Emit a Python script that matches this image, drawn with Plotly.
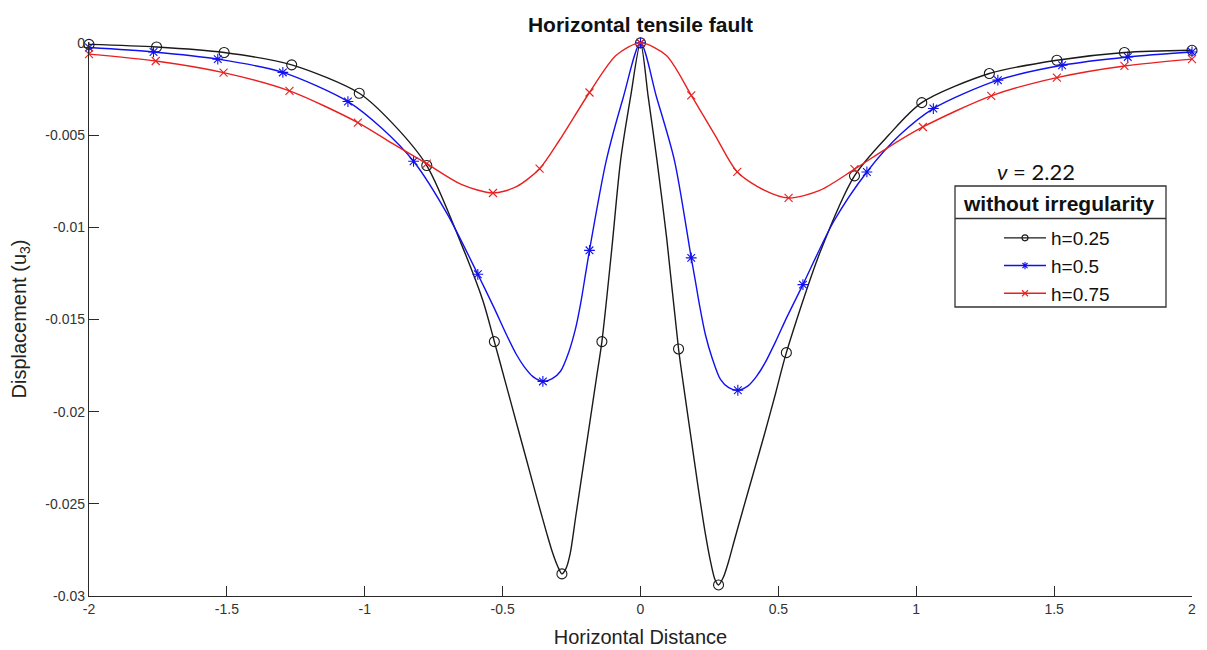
import plotly.graph_objects as go

# ---------------- data ----------------
x_tick_vals = [-2, -1.5, -1, -0.5, 0, 0.5, 1, 1.5, 2]
x_tick_text = ["-2", "-1.5", "-1", "-0.5", "0", "0.5", "1", "1.5", "2"]
y_tick_vals = [0, -0.005, -0.01, -0.015, -0.02, -0.025, -0.03]
y_tick_text = ["0", "-0.005", "-0.01", "-0.015", "-0.02", "-0.025", "-0.03"]

# h = 0.25 (black, circles): marker points
h025_mx = [-2.000, -1.755, -1.510, -1.265, -1.020, -0.775, -0.530, -0.285, -0.140, 0.000,
           0.138, 0.283, 0.529, 0.776, 1.020, 1.265, 1.510, 1.755, 2.000]
h025_my = [-0.00008, -0.00022, -0.00052, -0.00119, -0.00273, -0.00665, -0.01620, -0.02880, -0.01620, 0.0,
           -0.01660, -0.02940, -0.01680, -0.00721, -0.00324, -0.00166, -0.00094, -0.00052, -0.00040]
# h = 0.25: further points
h025_cx = [-0.900, -0.650, -0.572, -0.490, -0.450, -0.410, -0.370, -0.340, -0.320, -0.300, -0.270, -0.255,
           -0.235, -0.210, -0.185, -0.160, -0.105, -0.072, -0.036,
           0.028, 0.060, 0.095, 0.160, 0.185, 0.210, 0.235, 0.255, 0.270, 0.300, 0.320, 0.340, 0.370,
           0.410, 0.450, 0.490, 0.650, 0.900]
h025_cy = [-0.00435, -0.01090, -0.01396, -0.01840, -0.02060, -0.02280, -0.02500, -0.02660, -0.02760, -0.02840, -0.02850, -0.02770,
           -0.02570, -0.02320, -0.02070, -0.01820, -0.01130, -0.00636, -0.00293,
           -0.00293, -0.00640, -0.01060, -0.01900, -0.02160, -0.02420, -0.02660, -0.02820, -0.02910, -0.02900, -0.02810, -0.02700, -0.02540,
           -0.02330, -0.02120, -0.01900, -0.01140, -0.00500]

# h = 0.5 (blue, asterisks)
h05_mx = [-2.000, -1.766, -1.533, -1.297, -1.061, -0.823, -0.590, -0.354, -0.185, 0.000,
          0.184, 0.353, 0.589, 0.821, 1.062, 1.296, 1.529, 1.767, 2.000]
h05_my = [-0.00025, -0.00049, -0.00088, -0.00160, -0.00318, -0.00642, -0.01255, -0.01836, -0.01125, 0.0,
          -0.01166, -0.01884, -0.01311, -0.00700, -0.00356, -0.00202, -0.00121, -0.00076, -0.00049]
h05_cx = [-0.940, -0.700, -0.530, -0.490, -0.450, -0.420, -0.390, -0.320, -0.290, -0.260, -0.235, -0.215, -0.200,
          -0.124, -0.062, 0.058, 0.123,
          0.200, 0.215, 0.235, 0.260, 0.290, 0.320, 0.390, 0.420, 0.450, 0.490, 0.530, 0.700, 0.940]
h05_cy = [-0.00460, -0.00930, -0.01440, -0.01570, -0.01690, -0.01760, -0.01810, -0.01821, -0.01781, -0.01676, -0.01546, -0.01396, -0.01260,
          -0.00637, -0.00293, -0.00293, -0.00637,
          -0.01300, -0.01430, -0.01580, -0.01710, -0.01825, -0.01870, -0.01860, -0.01810, -0.01740, -0.01620, -0.01490, -0.00970, -0.00500]

# h = 0.75 (red, crosses)
h075_mx = [-2.000, -1.758, -1.512, -1.273, -1.025, -0.775, -0.535, -0.366, -0.185, 0.000,
           0.184, 0.351, 0.537, 0.776, 1.024, 1.272, 1.510, 1.755, 2.000]
h075_my = [-0.00061, -0.00098, -0.00161, -0.00260, -0.00432, -0.00655, -0.00814, -0.00682, -0.00269, 0.0,
           -0.00284, -0.00700, -0.00841, -0.00685, -0.00456, -0.00287, -0.00188, -0.00125, -0.00088]
h075_cx = [-0.900, -0.650, -0.450, -0.294, -0.088, 0.093, 0.270, 0.450, 0.650, 0.900]
h075_cy = [-0.00545, -0.00767, -0.00780, -0.00528, -0.00067, -0.00067, -0.00500, -0.00800, -0.00800, -0.00565]

series_names = ["h=0.25", "h=0.5", "h=0.75"]

# ---------------- figure ----------------
FONT = "Liberation Sans, Arial, sans-serif"
styles = [
    dict(color="#1a1a1a", symbol="circle-open", size=10, lsize=6),
    dict(color="#1010f0", symbol="asterisk-open", size=9, lsize=6),
    dict(color="#e82020", symbol="x-thin-open", size=8, lsize=6),
]
series = [
    (h025_mx, h025_my, h025_cx, h025_cy),
    (h05_mx, h05_my, h05_cx, h05_cy),
    (h075_mx, h075_my, h075_cx, h075_cy),
]

fig = go.Figure()
for name, st, (mx, my, cx, cy) in zip(series_names, styles, series):
    pts = sorted(zip(mx + cx, my + cy))
    lx = [p[0] for p in pts]
    ly = [p[1] for p in pts]
    fig.add_trace(go.Scatter(x=lx, y=ly, mode="lines", line=dict(color=st["color"], width=1.4, shape="spline", smoothing=0.8),
                             showlegend=False, hoverinfo="skip"))
    fig.add_trace(go.Scatter(x=mx, y=my, mode="markers", cliponaxis=False, showlegend=False,
                             marker=dict(symbol=st["symbol"], size=st["size"], color=st["color"],
                                         line=dict(width=1.1, color=st["color"]))))
for name, st in zip(series_names, styles):
    fig.add_trace(go.Scatter(x=[None], y=[None], mode="lines+markers", name=name,
                             line=dict(color=st["color"], width=1.4),
                             marker=dict(symbol=st["symbol"], size=st["lsize"], color=st["color"],
                                         line=dict(width=1.1, color=st["color"]))))

# The page body has an 8px margin, so the figure is drawn 8px right/down of the window corner.
OFF = 8
W, H = 1207 - OFF, 650 - OFF
# target plot area on screen: x 89..1192, y 42..596
SL, SR, ST, SB = 89, 1192, 42, 596
L, T = SL - OFF, ST - OFF
R, B = W - (SR - OFF), H - (SB - OFF)
pw, ph = W - L - R, H - T - B


def px_x(p):  # screen px -> paper
    return (p - SL) / pw


def px_y(p):
    return (SB - p) / ph


axis_col = "#2a2a2a"
fig.update_layout(
    width=W, height=H,
    margin=dict(l=L, r=R, t=T, b=B, autoexpand=False),
    paper_bgcolor="white", plot_bgcolor="white",
    font=dict(family=FONT, color="#222"),
    title=dict(text="<b>Horizontal tensile fault</b>", x=0.5, xref="paper", xanchor="center",
               y=1 - (25 - OFF) / H, yref="container", yanchor="middle",
               font=dict(size=21, family=FONT, color="#111")),
    showlegend=True,
    legend=dict(xref="paper", yref="paper", x=px_x(999), y=px_y(219),
                xanchor="left", yanchor="top", bgcolor="rgba(0,0,0,0)", borderwidth=0,
                font=dict(size=19, family=FONT, color="#111"), itemwidth=42,
                tracegroupgap=0),
)
fig.update_xaxes(range=[-2, 2], tickvals=x_tick_vals, ticktext=x_tick_text,
                 ticks="inside", ticklen=10, tickwidth=1.3, tickcolor=axis_col,
                 showline=True, linecolor=axis_col, linewidth=1.4, mirror=False,
                 showgrid=False, zeroline=False, automargin=False,
                 tickfont=dict(size=14, family=FONT, color="#333"),
                 title=dict(text="Horizontal Distance", font=dict(size=20, family=FONT, color="#222"), standoff=13))
fig.update_yaxes(range=[-0.03, 0.00005], tickvals=y_tick_vals, ticktext=y_tick_text,
                 ticks="inside", ticklen=10, tickwidth=1.3, tickcolor=axis_col,
                 showline=True, linecolor=axis_col, linewidth=1.4, mirror=False,
                 showgrid=False, zeroline=False, automargin=False,
                 tickfont=dict(size=14, family=FONT, color="#333"),
                 title=dict(text="Displacement (u<sub>3</sub>)", font=dict(size=20, family=FONT, color="#222"), standoff=14))

# legend box, title and separator
fig.add_shape(type="rect", xref="paper", yref="paper",
              x0=px_x(955), x1=px_x(1166), y0=px_y(307), y1=px_y(186),
              line=dict(color="#333", width=1.3), fillcolor="rgba(255,255,255,0)")
fig.add_shape(type="line", xref="paper", yref="paper",
              x0=px_x(955), x1=px_x(1166), y0=px_y(218.5), y1=px_y(218.5),
              line=dict(color="#333", width=1.3))
fig.add_annotation(text="<b>without irregularity</b>", xref="paper", yref="paper",
                   x=px_x(1059), y=px_y(203), xanchor="center", yanchor="middle", showarrow=False,
                   font=dict(size=21, family=FONT, color="#111"))
fig.add_annotation(text="<i>ν</i> = 2.22", xref="paper", yref="paper",
                   x=px_x(1036), y=px_y(171), xanchor="center", yanchor="middle", showarrow=False,
                   font=dict(size=22, family="Lato, Open Sans, sans-serif", color="#111"))

fig.write_html("out.html")
